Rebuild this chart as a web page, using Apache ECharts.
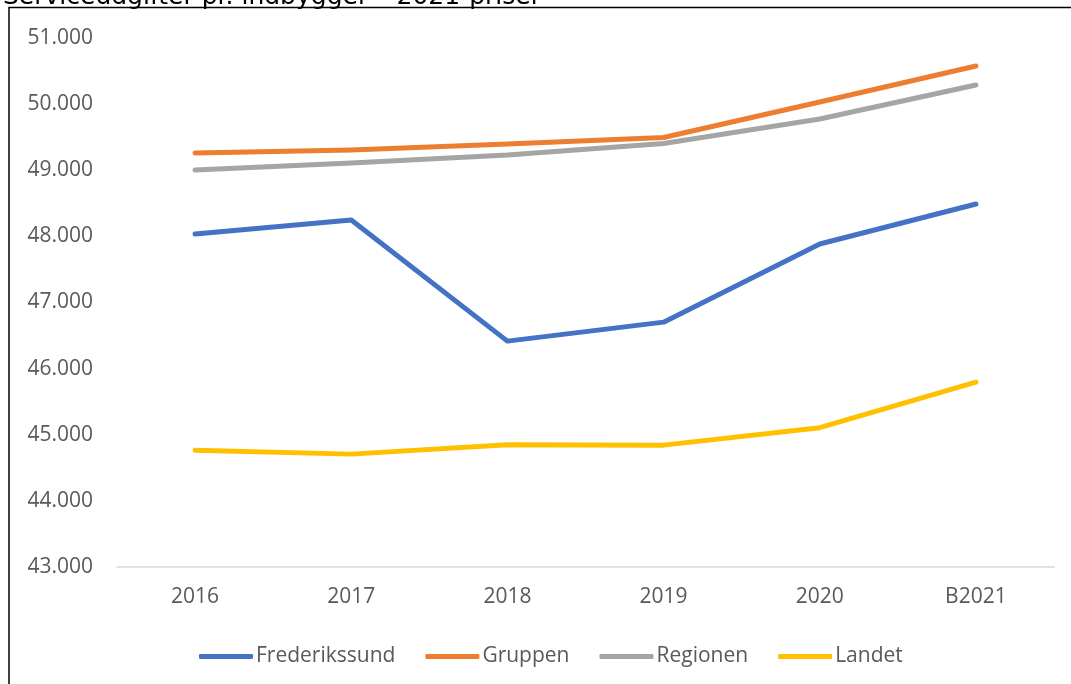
<!DOCTYPE html>
<html>
<head>
<meta charset="utf-8">
<script src="https://cdn.jsdelivr.net/npm/echarts@6/dist/echarts.min.js"></script>
<style>
    html, body { margin: 0; padding: 0; background: #fff; }
    #main { width: 1071px; height: 684px; }
</style>
</head>
<body>
<div id="main"></div>
<script>
const years = ['2016', '2017', '2018', '2019', '2020', 'B2021']

const frederikssund = [48035, 48247, 46416, 46703, 47884, 48489]
const gruppen = [49260, 49306, 49396, 49495, 50032, 50576]
const regionen = [49003, 49109, 49230, 49404, 49775, 50289]
const landet = [44767, 44707, 44850, 44843, 45107, 45796]

const myChart = echarts.init(document.getElementById('main'))

function line(name, data, color) {
    return {
        name: name,
        type: 'line',
        data: data,
        symbol: 'none',
        color: color,
        lineStyle: { width: 5, color: color, cap: 'round', join: 'round' }
    }
}

myChart.setOption({
    animation: false,
    textStyle: { fontFamily: 'Open Sans' },
    graphic: [
        {
            type: 'rect',
            shape: { x: 9, y: 7.5, width: 1080, height: 700 },
            style: { fill: 'none', stroke: '#000', lineWidth: 1.5 }
        },
        {
            type: 'text',
            left: 3,
            top: -15,
            style: {
                text: 'Serviceudgifter pr. indbygger – 2021-priser',
                font: '25px "DejaVu Sans"',
                fill: '#000'
            }
        }
    ],
    grid: { left: 117, right: 17, top: 38, bottom: 117 },
    legend: {
        left: 194,
        top: 641,
        itemWidth: 54,
        itemHeight: 5,
        itemGap: 30,
        icon: 'roundRect',
        textStyle: { fontSize: 21, color: '#595959', padding: [0, 0, 0, -2] },
        data: ['Frederikssund', 'Gruppen', 'Regionen', 'Landet']
    },
    xAxis: {
        type: 'category',
        data: years,
        boundaryGap: true,
        axisLine: { lineStyle: { color: '#d9d9d9', width: 1.5 } },
        axisTick: { show: false },
        axisLabel: { fontSize: 21, color: '#595959', margin: 20 }
    },
    yAxis: {
        type: 'value',
        min: 43000,
        max: 51000,
        interval: 1000,
        splitLine: { show: false },
        axisLabel: {
            fontSize: 21,
            color: '#595959',
            margin: 24,
            formatter: function (v) {
                return (v / 1000).toFixed(3)
            }
        }
    },
    series: [
        line('Frederikssund', frederikssund, '#4472c4'),
        line('Gruppen', gruppen, '#ed7d31'),
        line('Regionen', regionen, '#a5a5a5'),
        line('Landet', landet, '#ffc000')
    ]
})
</script>
</body>
</html>
